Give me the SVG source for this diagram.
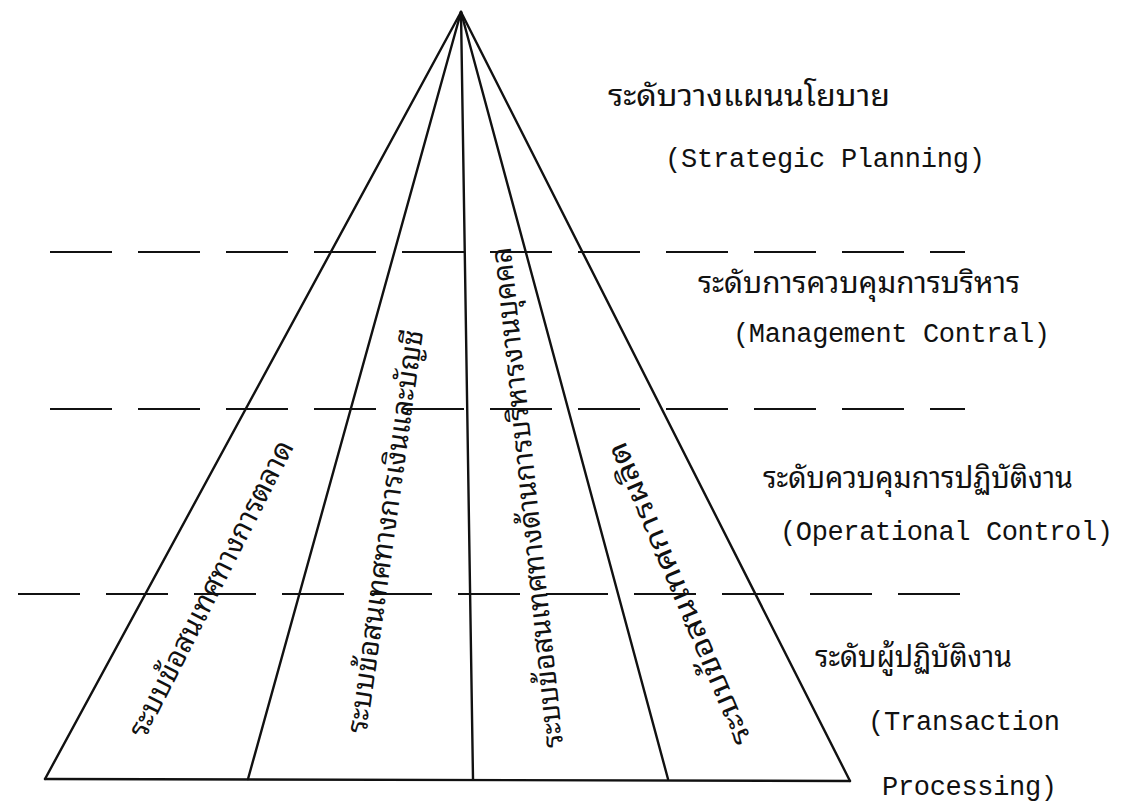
<svg xmlns="http://www.w3.org/2000/svg" width="1129" height="802" viewBox="0 0 1129 802">
  <style>
    .edge { stroke: #111; stroke-width: 2.4; fill: none; stroke-linecap: round; }
    .level { stroke: #111; stroke-width: 2; fill: none; stroke-dasharray: 62 26; }
    .th { font-family: "Noto Sans Thai Looped", "Noto Serif Thai", "Noto Sans Thai", "Noto Sans", sans-serif; font-size: 30px; fill: #111; }
    .en { font-family: "Liberation Mono", "Courier New", monospace; font-size: 27px; fill: #111; }
    .sys { font-family: "Noto Sans Thai Looped", "Noto Serif Thai", "Noto Sans Thai", "Noto Sans", sans-serif; font-size: 29px; fill: #111; text-anchor: middle; dominant-baseline: central; }
  </style>
  <rect width="1129" height="802" fill="#fff"/>

  <!-- dashed level boundaries -->
  <g id="levels">
    <line class="level" x1="50" y1="252" x2="965" y2="252"/>
    <line class="level" x1="50" y1="409" x2="965" y2="409"/>
    <line class="level" x1="18" y1="594" x2="965" y2="594"/>
  </g>

  <!-- pyramid: rays from the apex and the base -->
  <g id="connectors">
    <line class="edge" x1="461" y1="12" x2="45" y2="779"/>
    <line class="edge" x1="461" y1="12" x2="248" y2="779"/>
    <line class="edge" x1="461" y1="12" x2="473" y2="779"/>
    <line class="edge" x1="461" y1="12" x2="668" y2="779"/>
    <line class="edge" x1="461" y1="12" x2="850" y2="781"/>
    <line class="edge" x1="45" y1="779" x2="850" y2="781"/>
  </g>

  <!-- information systems, one per slice -->
  <g id="sys-marketing">
    <text class="sys" transform="translate(208,587) rotate(-63)" textLength="329" lengthAdjust="spacingAndGlyphs">ระบบข้อสนเทศทางการตลาด</text>
  </g>
  <g id="sys-finance">
    <text class="sys" transform="translate(382,531) rotate(-82)" textLength="407" lengthAdjust="spacingAndGlyphs">ระบบข้อสนเทศทางการเงินและบัญชี</text>
  </g>
  <g id="sys-personnel">
    <text class="sys" transform="translate(524,498) rotate(-96)" textLength="503" lengthAdjust="spacingAndGlyphs">ระบบข้อสนเทศทางด้านการบริหารงานบุคคล</text>
  </g>
  <g id="sys-production">
    <text class="sys" transform="translate(676,595) rotate(-113)" textLength="326" lengthAdjust="spacingAndGlyphs">ระบบข้อสนเทศการผลิต</text>
  </g>

  <!-- management levels -->
  <g id="level-strategic">
    <text class="th" x="608" y="106" textLength="282" lengthAdjust="spacingAndGlyphs">ระดับวางแผนนโยบาย</text>
    <text class="en" x="665" y="167" textLength="320">(Strategic Planning)</text>
  </g>
  <g id="level-management">
    <text class="th" x="698" y="293" textLength="322" lengthAdjust="spacingAndGlyphs">ระดับการควบคุมการบริหาร</text>
    <text class="en" x="733" y="342" textLength="317">(Management Contral)</text>
  </g>
  <g id="level-operational">
    <text class="th" x="763" y="488" textLength="310" lengthAdjust="spacingAndGlyphs">ระดับควบคุมการปฏิบัติงาน</text>
    <text class="en" x="780" y="540" textLength="333">(Operational Control)</text>
  </g>
  <g id="level-transaction">
    <text class="th" x="815" y="667" textLength="197" lengthAdjust="spacingAndGlyphs">ระดับผู้ปฏิบัติงาน</text>
    <text class="en" x="868" y="730" textLength="192">(Transaction</text>
    <text class="en" x="882" y="795" textLength="175">Processing)</text>
  </g>
</svg>
